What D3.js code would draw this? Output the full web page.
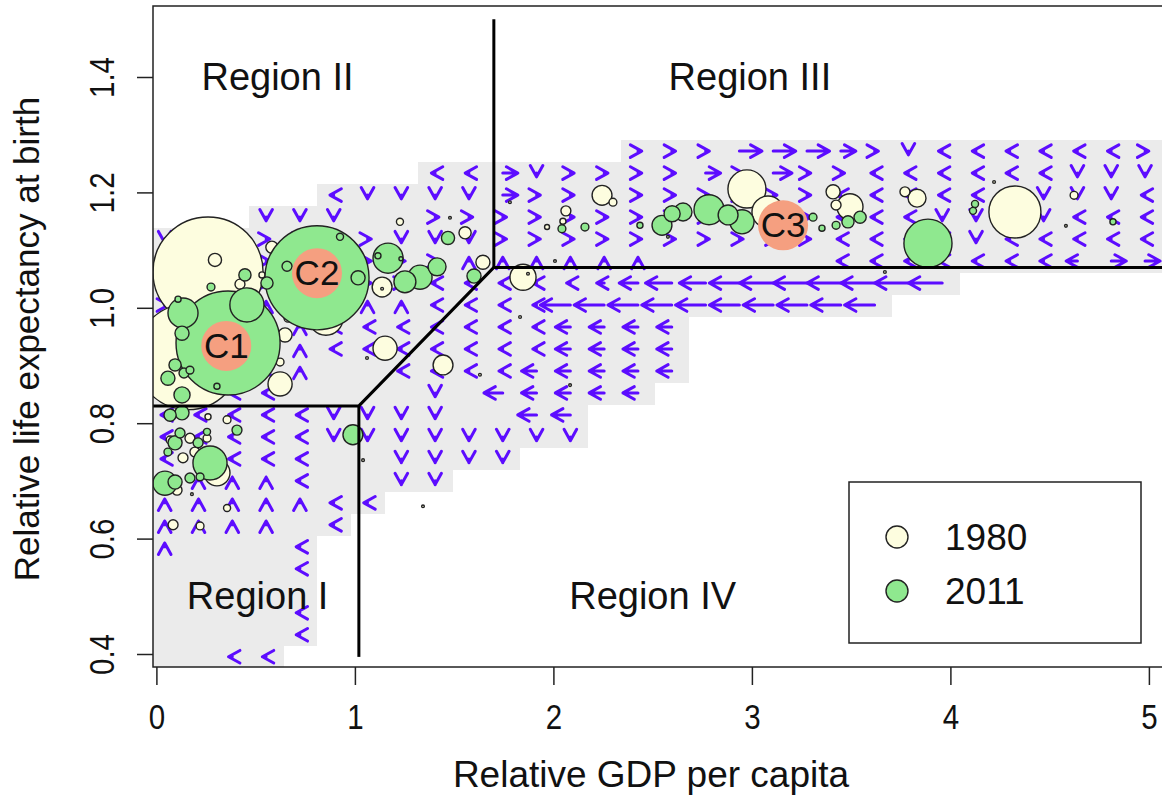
<!DOCTYPE html>
<html>
<head>
<meta charset="utf-8">
<script src="https://cdn.jsdelivr.net/npm/d3@7"></script>
<style>
  body { margin: 0; background: #fff; }
  svg { display: block; font-family: "Liberation Sans", Arial, sans-serif; }
</style>
</head>
<body>
<svg width="1162" height="796"></svg>
<script>
// axis ticks
var xTicks = [0, 1, 2, 3, 4, 5]
var yTicks = [0.4, 0.6, 0.8, 1.0, 1.2, 1.4]
var years = ["1980", "2011"]

// countries: [relative GDP per capita, relative life expectancy, population (millions)]
var countries1980 = [
  [0.260, 1.062, 980], [0.159, 0.915, 900], [0.854, 0.982, 94], [1.152, 0.930, 47],
  [1.444, 0.901, 32], [0.623, 0.868, 47], [0.623, 0.906, 5], [0.648, 0.953, 16],
  [1.137, 1.036, 32], [0.295, 1.083, 14], [0.421, 1.041, 8], [0.532, 1.057, 3],
  [0.582, 1.105, 12], [0.663, 0.982, 5], [1.227, 1.149, 4], [1.555, 1.130, 12],
  [1.645, 1.079, 16], [1.847, 1.053, 55], [2.245, 1.195, 32], [2.300, 1.183, 5],
  [2.063, 1.168, 8], [2.048, 1.150, 3], [1.968, 1.140, 2], [2.975, 1.206, 117],
  [3.081, 1.166, 83], [3.409, 1.201, 16], [3.494, 1.175, 55], [3.424, 1.178, 8],
  [3.771, 1.201, 8], [3.832, 1.190, 26], [4.325, 1.166, 219], [4.623, 1.195, 5],
  [0.305, 0.714, 55], [0.104, 0.684, 8], [0.356, 0.653, 4], [0.084, 0.624, 8],
  [0.220, 0.622, 5], [0.134, 0.740, 8], [0.260, 0.811, 3], [0.356, 0.806, 5],
  [0.255, 0.774, 5], [0.169, 0.774, 8], [0.194, 0.750, 8], [0.069, 0.771, 5],
  [1.479, 1.156, 0.6], [1.781, 1.183, 0.6], [2.008, 1.081, 0.6], [1.832, 0.984, 0.6],
  [2.084, 0.866, 0.6], [1.630, 0.884, 0.6], [1.061, 0.913, 0.6], [1.343, 0.656, 0.6],
  [1.041, 0.736, 0.6], [4.220, 1.218, 0.6], [4.582, 1.142, 0.6], [3.670, 1.062, 0.6],
  [2.577, 1.123, 0.6], [1.872, 1.059, 0.6], [1.137, 1.033, 0.6], [0.179, 0.677, 0.6]
]
var countries2011 = [
  [0.361, 0.939, 876], [0.809, 1.052, 876], [3.887, 1.112, 187], [2.784, 1.170, 73],
  [2.653, 1.166, 26], [2.598, 1.163, 21], [2.547, 1.143, 32], [2.880, 1.161, 32],
  [2.950, 1.149, 47], [2.436, 1.143, 3], [2.159, 1.140, 5], [2.043, 1.137, 5],
  [3.308, 1.157, 5], [3.353, 1.138, 3], [3.424, 1.143, 5], [3.484, 1.149, 12],
  [3.545, 1.157, 12], [4.124, 1.180, 4], [4.114, 1.168, 4], [4.819, 1.149, 3],
  [1.469, 1.121, 14], [1.167, 1.086, 73], [1.016, 1.052, 16], [1.252, 1.045, 39],
  [1.328, 1.053, 47], [1.414, 1.071, 26], [1.600, 1.055, 16], [0.658, 1.072, 8],
  [0.925, 1.123, 4], [0.275, 1.036, 5], [0.446, 1.057, 12], [0.557, 1.043, 12],
  [0.109, 1.015, 3], [0.134, 0.991, 73], [0.456, 1.005, 94], [0.129, 0.956, 16],
  [0.094, 0.901, 12], [0.058, 0.878, 16], [0.139, 0.887, 8], [0.169, 0.892, 5],
  [0.129, 0.849, 21], [0.305, 0.864, 3], [0.069, 0.814, 12], [0.129, 0.818, 16],
  [0.119, 0.783, 8], [0.094, 0.766, 16], [0.058, 0.750, 5], [0.210, 0.766, 8],
  [0.270, 0.731, 94], [0.043, 0.696, 47], [0.094, 0.698, 16], [0.169, 0.705, 8],
  [0.220, 0.707, 5], [0.406, 0.788, 8], [0.990, 0.780, 32], [0.255, 0.785, 4],
  [1.116, 1.090, 3], [1.232, 1.085, 1.3]
]

// cluster centres
var clusters = [["C1", 0.352, 0.934], ["C2", 0.809, 1.060], ["C3", 3.157, 1.143]]

// region names
var regions = [["Region II", 0.61, 1.40], ["Region III", 2.99, 1.40], ["Region I", 0.51, 0.50], ["Region IV", 2.50, 0.50]]

// region borders
var borders = [
  [[1.7, 1.5], [1.7, 1.07], [5.6, 1.07]],
  [[-0.1, 0.83], [1.02, 0.83], [1.7, 1.07]],
  [[1.02, 0.83], [1.02, 0.395]]
]

// direction field, top row first. l r u d = arrow direction, . = no arrow, space = outside
var fieldDir = [
  "              rrrrrrrrdllllllr",
  "        llrdrrrrrrrrrllllllddd",
  "     lddddrrrrrrrrrrlllllldddl",
  "   ddd..rrrrrrrrrrrrlllddddlll",
  "dddrrrrdddrrrrrrrrrrlllldlllll",
  "rrrrrrrrruuuuuu.....llllllllrr",
  "rrrrrrrrllllllllllllllll      ",
  "rrruuuuullllllllllllll        ",
  "uuuuulllllllllll              ",
  "uuuuulllllllllll              ",
  "uuuuu..lllllllll              ",
  "llll....d.lllll               ",
  "llllldddd..ll                 ",
  "llllldddddddd                 ",
  "lllll..dddd                   ",
  "uuuul..dd                     ",
  "uuuuull                       ",
  "uuuu.l                        ",
  "u...l                         ",
  "....l                         ",
  ".....                         ",
  "....l                         ",
  "....l                         ",
  "..ll                          "
]
// arrow length, ninths of a cell width
var fieldLen = [
  "              1116664111111111",
  "        1141111141511111111111",
  "     11111411111111111111111111",
  "   111111111111111111111111111",
  "111111111111111111111111111111",
  "111111111111111111111111111344",
  "111111111111125778999999      ",
  "1111111111118888888888        ",
  "1111111111114444              ",
  "1111111111114444              ",
  "1111111111144444              ",
  "111111111154444               ",
  "1111111111155                 ",
  "1111111111111                 ",
  "11111111111                   ",
  "111111111                     ",
  "1111111                       ",
  "111111                        ",
  "11111                         ",
  "11111                         ",
  "11111                         ",
  "11111                         ",
  "11111                         ",
  "1111                          "
]

// field grid in data units
var gridX0 = -0.0433, cellW = 0.1703, gridY0 = 0.3762, cellH = 0.0381

var plot = { left: 153, top: 6, right: 1162, bottom: 667 }
var svg = d3.select("svg")

var x = d3.scaleLinear().domain([0, 5]).range([156.4, 1148.9])
var y = d3.scaleLinear().domain([0.4, 1.4]).range([654, 77])
var r = d3.scaleSqrt().domain([0, 1000]).range([0, 55.6])

svg.append("rect").attr("width", 1162).attr("height", 796).attr("fill", "#fff")

svg.append("defs").append("clipPath").attr("id", "clip").append("rect")
    .attr("x", plot.left).attr("y", plot.top)
    .attr("width", plot.right - plot.left + 10).attr("height", plot.bottom - plot.top)

var g = svg.append("g").attr("clip-path", "url(#clip)")

//build the list of field cells
var cells = []
fieldDir.forEach(function (row, i) {
    var ri = fieldDir.length - 1 - i
    for (var c = 0; c < row.length; c++) {
        if (row[c] === " ") continue
        cells.push({ col: c, row: ri, dir: row[c], len: +(fieldLen[i][c]) || 1 })
    }
})

// gray background of the field
g.selectAll(".cell").data(cells).enter().append("rect")
    .attr("class", "cell")
    .attr("x", function (d) { return x(gridX0 + d.col * cellW) })
    .attr("y", function (d) { return y(gridY0 + (d.row + 1) * cellH) })
    .attr("width", x(cellW) - x(0) + 0.6)
    .attr("height", y(0) - y(cellH) + 0.6)
    .attr("fill", "#ebebeb")
    .attr("shape-rendering", "crispEdges")

// arrows
var vec = { l: [-1, 0], r: [1, 0], u: [0, -1], d: [0, 1] }
var cellPx = x(cellW) - x(0)
var headLen = 13, headAng = 29 * Math.PI / 180
g.selectAll(".arrow").data(cells.filter(function (d) { return vec[d.dir] })).enter().append("path")
    .attr("class", "arrow")
    .attr("d", function (d) {
        var cx = x(gridX0 + (d.col + 0.5) * cellW), cy = y(gridY0 + (d.row + 0.5) * cellH)
        var v = vec[d.dir], L = d.len * cellPx / 9
        var tx = cx + v[0] * L, ty = cy + v[1] * L
        var th = Math.atan2(v[1], v[0])
        var p1 = [tx - headLen * Math.cos(th - headAng), ty - headLen * Math.sin(th - headAng)]
        var p2 = [tx - headLen * Math.cos(th + headAng), ty - headLen * Math.sin(th + headAng)]
        return "M" + cx + "," + cy + "L" + tx + "," + ty +
            "M" + p1[0] + "," + p1[1] + "L" + tx + "," + ty + "L" + p2[0] + "," + p2[1]
    })
    .attr("fill", "none")
    .attr("stroke", "#5c0cff")
    .attr("stroke-width", 3)
    .attr("stroke-linecap", "round")
    .attr("stroke-linejoin", "round")

// bubbles, 1980 under 2011, big ones first
var fills = { "1980": "#fdfddf", "2011": "#8fe88f" }
function drawYear(data, year) {
    var sorted = data.slice().sort(function (a, b) { return b[2] - a[2] })
    g.selectAll(".b" + year).data(sorted).enter().append("circle")
        .attr("class", "b" + year)
        .attr("cx", function (d) { return x(d[0]) })
        .attr("cy", function (d) { return y(d[1]) })
        .attr("r", function (d) { return r(d[2]) })
        .attr("fill", fills[year])
        .attr("stroke", "#222")
        .attr("stroke-width", 1.4)
}
drawYear(countries1980, "1980")
drawYear(countries2011, "2011")

// region borders
var line = d3.line().x(function (d) { return x(d[0]) }).y(function (d) { return y(d[1]) })
g.selectAll(".border").data(borders).enter().append("path")
    .attr("class", "border")
    .attr("d", line)
    .attr("fill", "none")
    .attr("stroke", "#000")
    .attr("stroke-width", 3)

// cluster centres
var cl = g.selectAll(".cluster").data(clusters).enter().append("g").attr("class", "cluster")
cl.append("circle")
    .attr("cx", function (d) { return x(d[1]) })
    .attr("cy", function (d) { return y(d[2]) })
    .attr("r", 25)
    .attr("fill", "#f59f80")
cl.append("text")
    .attr("x", function (d) { return x(d[1]) })
    .attr("y", function (d) { return y(d[2]) + 12 })
    .attr("text-anchor", "middle")
    .attr("font-size", 35)
    .attr("fill", "#111")
    .text(function (d) { return d[0] })

// region labels
g.selectAll(".region").data(regions).enter().append("text")
    .attr("class", "region")
    .attr("x", function (d) { return x(d[1]) })
    .attr("y", function (d) { return y(d[2]) + 13 })
    .attr("text-anchor", "middle")
    .attr("font-size", 38)
    .attr("fill", "#111")
    .text(function (d) { return d[0] })

// plot frame
svg.append("rect")
    .attr("x", plot.left).attr("y", plot.top)
    .attr("width", plot.right - plot.left + 20).attr("height", plot.bottom - plot.top)
    .attr("fill", "none").attr("stroke", "#222").attr("stroke-width", 1.5)

// axes, narrow digits
var xAxis = svg.append("g")
    .attr("transform", "translate(0," + plot.bottom + ")")
    .call(d3.axisBottom(x).tickValues(xTicks).tickSize(18).tickPadding(18).tickFormat(d3.format("d")))
xAxis.select(".domain").remove()
xAxis.attr("font-family", null).attr("font-size", 36)
xAxis.selectAll("line").attr("stroke", "#222").attr("stroke-width", 1.5)
xAxis.selectAll("text").attr("fill", "#111").attr("transform", "scale(0.82,1)")

var yAxis = svg.append("g")
    .attr("transform", "translate(" + plot.left + ",0)")
    .call(d3.axisLeft(y).tickValues(yTicks).tickSize(16).tickFormat(d3.format(".1f")))
yAxis.select(".domain").remove()
yAxis.attr("font-family", null).attr("font-size", 36)
yAxis.selectAll("line").attr("stroke", "#222").attr("stroke-width", 1.5)
yAxis.selectAll("text")
    .attr("x", 0).attr("y", -39).attr("dy", 0)
    .attr("text-anchor", "middle")
    .attr("transform", "rotate(-90) scale(0.82,1)")
    .attr("fill", "#111")

// axis titles
svg.append("text")
    .attr("x", 651).attr("y", 787)
    .attr("text-anchor", "middle").attr("font-size", 37).attr("fill", "#111")
    .text("Relative GDP per capita")
svg.append("text")
    .attr("transform", "translate(39,339) rotate(-90)")
    .attr("text-anchor", "middle").attr("font-size", 35).attr("fill", "#111")
    .text("Relative life expectancy at birth")

// legend
var legend = svg.append("g")
legend.append("rect")
    .attr("x", 849).attr("y", 482).attr("width", 292).attr("height", 161)
    .attr("fill", "#fff").attr("stroke", "#222").attr("stroke-width", 1.5)
var items = legend.selectAll(".item").data(years).enter().append("g")
    .attr("class", "item")
    .attr("transform", function (d, i) { return "translate(0," + i * 54 + ")" })
items.append("circle")
    .attr("cx", 897).attr("cy", 537).attr("r", 11)
    .attr("fill", function (d) { return fills[d] })
    .attr("stroke", "#222").attr("stroke-width", 1.4)
items.append("text")
    .attr("x", 945).attr("y", 550)
    .attr("font-size", 37).attr("fill", "#111")
    .text(function (d) { return d })
</script>
</body>
</html>
